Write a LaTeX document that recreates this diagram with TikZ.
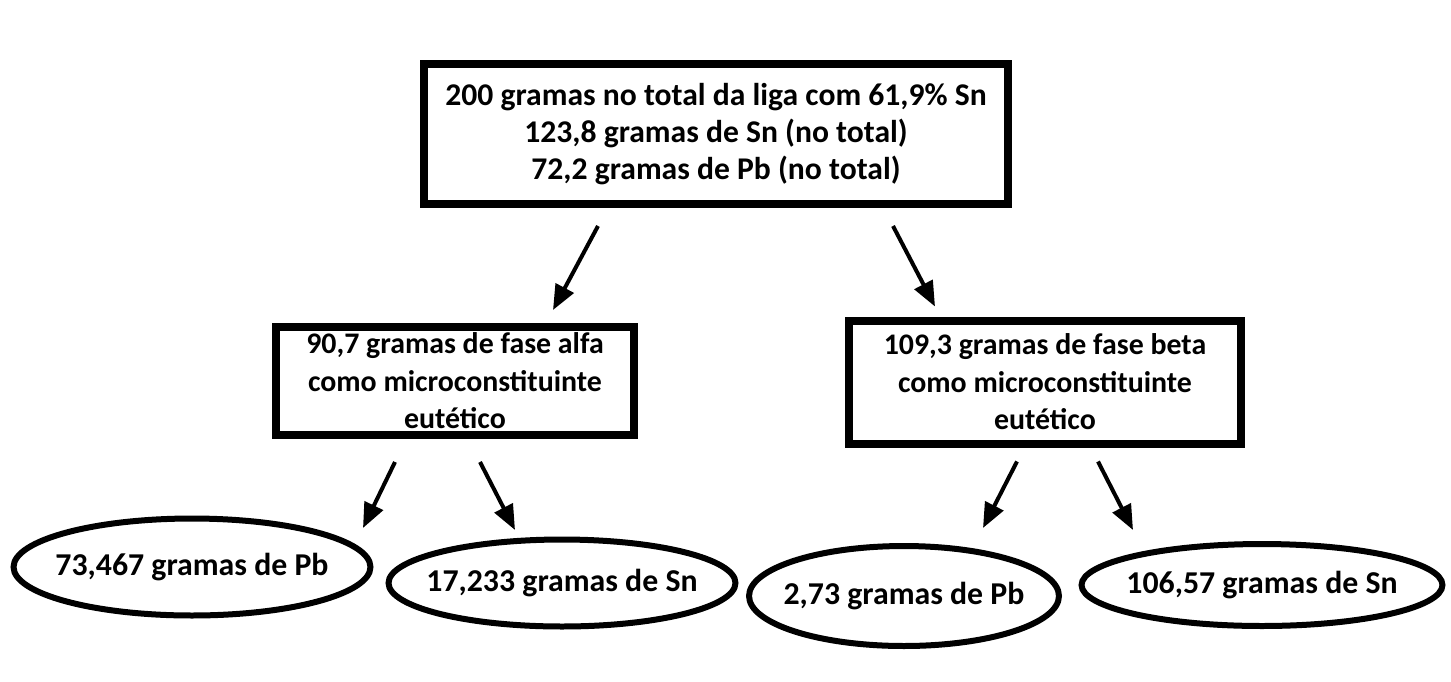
\documentclass[tikz,border=0pt]{standalone}
\usepackage{fontspec}
\setmainfont{Carlito}
\usetikzlibrary{shapes.geometric,arrows.meta,calc,positioning}

\tikzset{
  caixa/.style={draw, line width=0.16cm, align=center, inner sep=0pt,
    font=\bfseries\fontsize{18}{21}\selectfont},
  fase/.style={caixa, font=\bfseries\fontsize{17}{21.3}\selectfont},
  elipse/.style={ellipse, draw, line width=0.12cm, inner sep=0pt,
    font=\bfseries\fontsize{18.1}{21}\selectfont},
  seta/.style={line width=0.08cm, -{Triangle[length=0.5cm,width=0.4cm]}}
}

\begin{document}
\begin{tikzpicture}[x=0.02cm, y=-0.02cm]
    \useasboundingbox (0,0) rectangle (1451,681);

    % liga inteira
    \node[caixa, minimum width=11.68cm, minimum height=2.8cm] (topo) at (716,134) {
      200 gramas no total da liga com 61,9\% Sn\\
      123,8 gramas de Sn (no total)\\
      72,2 gramas de Pb (no total)
    };

    % fases
    \node[fase, minimum width=7.16cm, minimum height=2.16cm] (alfa) at (455,381) {
      90,7 gramas de fase alfa\\
      como microconstituinte\\
      eutético
    };
    \node[fase, minimum width=7.84cm, minimum height=2.46cm] (beta) at (1045,382) {
      109,3 gramas de fase beta\\
      como microconstituinte\\
      eutético
    };

    % massas de cada elemento
    \node[elipse, minimum width=7.14cm, minimum height=1.94cm] (pbalfa) at (192,567) {\makebox[0pt]{73,467 gramas de Pb}};
    \node[elipse, minimum width=6.94cm, minimum height=1.74cm] (snalfa) at (562,583) {\makebox[0pt]{17,233 gramas de Sn}};
    \node[elipse, minimum width=6.2cm, minimum height=2.0cm] (pbbeta) at (904,596) {\makebox[0pt]{2,73 gramas de Pb}};
    \node[elipse, minimum width=7.22cm, minimum height=1.64cm] (snbeta) at (1262,585) {\makebox[0pt]{106,57 gramas de Sn}};

    \draw[seta] ($(topo.south)+(-118,18)$) -- ($(alfa.north)+(98,-13)$);
    \draw[seta] ($(topo.south)+(177,18)$) -- ($(beta.north)+(-110,-10)$);

    \draw[seta] ($(alfa.south)+(-60,23)$) -- ($(pbalfa)+(171,-39)$);
    \draw[seta] ($(alfa.south)+(25,23)$) -- ($(snalfa)+(-47,-53)$);

    \draw[seta] ($(beta.south)+(-28,14)$) -- ($(pbbeta)+(79,-68)$);
    \draw[seta] ($(beta.south)+(53,14)$) -- ($(snbeta)+(-129,-55)$);
\end{tikzpicture}
\end{document}
